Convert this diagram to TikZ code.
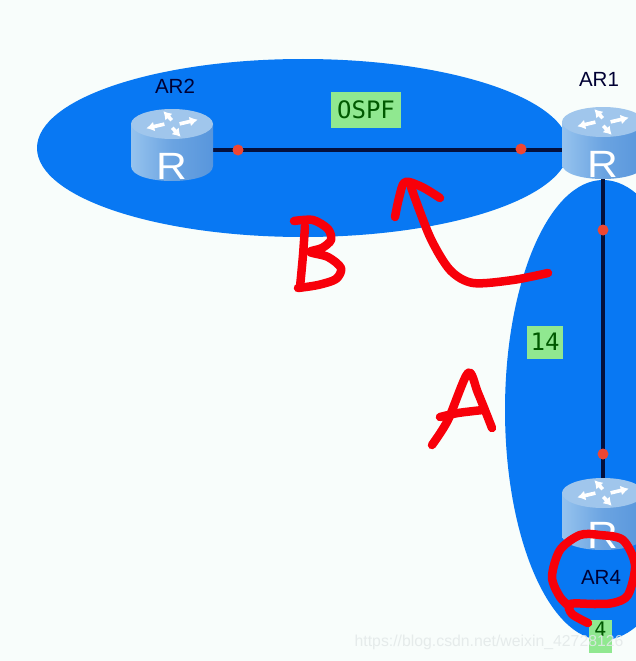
\documentclass[tikz,border=0pt]{standalone}
\usepackage{fontspec}
\setmainfont{Liberation Sans}
\newfontfamily\labelmono{DejaVu Sans Mono}
\usepackage{xcolor}
\usetikzlibrary{arrows.meta,positioning}
\definecolor{paper}{RGB}{248,253,251}
\definecolor{areablue}{RGB}{8,120,243}
\definecolor{linknavy}{RGB}{4,16,60}
\definecolor{portred}{RGB}{238,70,50}
\definecolor{labelgreen}{RGB}{144,232,144}
\definecolor{inkred}{RGB}{248,0,10}
\definecolor{routertop}{RGB}{160,198,236}
\definecolor{routerlight}{RGB}{150,195,238}
\definecolor{routerdark}{RGB}{88,150,220}
\definecolor{markgray}{RGB}{226,232,232}
\tikzset{
    routerbox/.style={minimum width=82pt,minimum height=54pt,inner sep=0pt},
    routername/.style={font=\fontsize{20.5}{20.5}\selectfont,text=black!80!blue},
    portdot/.style={circle,fill=portred,minimum size=11pt,inner sep=0pt},
    linkline/.style={line width=3.2pt,draw=linknavy},
    areatag/.style={fill=labelgreen,inner sep=0pt,text=black!65!green,font=\labelmono\fontsize{24}{24}\selectfont},
    inkstroke/.style={draw=inkred,line width=8.5pt,line cap=round,line join=round},
    router/.pic={
        \path[left color=routerlight,right color=routerdark,middle color=routerdark!70!routerlight]
            (-41,0) -- (-41,42) .. controls (-41,62) and (41,62) .. (41,42) -- (41,0) -- cycle;
        \fill[routertop] (0,0) circle [x radius=41,y radius=15];
        \foreach \ang in {25,115,205,295} {
            \begin{scope}[yscale=0.5,rotate=\ang]
                \draw[white,line width=3.6pt,-{Latex[length=8pt,width=10pt]}] (7,3) -- (27,3);
            \end{scope}
        }
        \node[text=white,font=\fontsize{38}{38}\selectfont,xscale=1.12] at (0,42) {R};
    }
}
\begin{document}
\begin{tikzpicture}[x=1pt,y=-1pt]
    \useasboundingbox (0,0) rectangle (636,661);
    % background
    \fill[paper] (0,0) rectangle (636,661);
    \begin{scope}
    \clip (0,0) rectangle (636,661);
    % areas
    \fill[areablue] (303,148) circle [x radius=266,y radius=89];
    \fill[areablue] (603,410) circle [x radius=98,y radius=230];
    % routers
    \node[routerbox] (ar2) at (172,150) {};
    \node[routerbox] (ar1) at (603,150) {};
    \node[routerbox] (ar4) at (603,510) {};
    % links
    \draw[linkline] (ar2) -- (ar1);
    \draw[linkline] (ar1) -- (ar4);
    \pic at (172,124) {router};
    \pic at (603,122) {router};
    \pic at (603,493) {router};
    % ports
    \node[portdot] (port2) at (238,150) {};
    \node[portdot] (port1) at (521,149) {};
    \node[portdot] (port3) at (603,230) {};
    \node[portdot] (port4) at (603,454) {};
    % names
    \node[routername] (name2) at (175,86) {AR2};
    \node[routername] (name1) at (599,79) {AR1};
    \node[routername] (name4) at (601,577) {AR4};
    % tags
    \node[areatag,minimum width=70pt,minimum height=36pt] (ospf) at (366,110) {OSPF};
    \node[areatag,minimum width=36pt,minimum height=33pt] (cost14) at (545,342) {14};
    \node[areatag,minimum width=23pt,minimum height=33pt,text height=13pt,text depth=12pt,font=\labelmono\fontsize{20}{20}\selectfont] (cost4) at (600.5,636) {4};
    % ink
    \draw[inkstroke] plot[smooth] coordinates {(294,221) (313,220) (328,229) (331,240) (322,248) (310,252) (328,257) (341,268) (336,279) (318,285) (298,288)};
    \draw[inkstroke] plot[smooth] coordinates {(305,226) (303,255) (300,287)};
    \draw[inkstroke] plot[smooth] coordinates {(432,445) (448,420) (468,373) (478,393) (492,428)};
    \draw[inkstroke] plot[smooth] coordinates {(440,417) (458,413) (483,410)};
    \draw[inkstroke] plot[smooth] coordinates {(548,273) (513,280) (473,283) (450,270) (430,237) (411,187)};
    \draw[inkstroke] plot[smooth] coordinates {(395,217) (399,198) (405,182) (422,187) (440,198)};
    \draw[inkstroke] plot[smooth] coordinates {(588,623) (572,614) (570,604) (595,604) (613,603) (628,595) (635,565) (623,540) (600,535) (580,535) (560,550) (552,577) (560,597) (570,607)};
    % watermark
    \node[text=markgray,opacity=0.85,font=\fontsize{15.8}{15.8}\selectfont,anchor=east] (mark) at (627,642) {https://blog.csdn.net/weixin\_42728126};
    \end{scope}
\end{tikzpicture}
\end{document}
